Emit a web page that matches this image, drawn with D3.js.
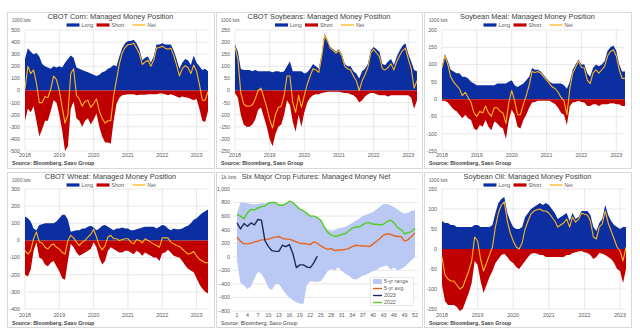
<!DOCTYPE html>
<html lang="en">
<head>
<meta charset="utf-8">
<title>Managed Money Positions</title>
<script src="https://cdn.jsdelivr.net/npm/d3@7"></script>
<style>
  body { margin: 0; background: #fff; }
  svg { font-family: "Liberation Sans", Arial, sans-serif; }
  .title { font-size: 7.4px; fill: #404040; }
  .tick { font-size: 5.3px; fill: #595959; }
  .unit { font-size: 4.6px; fill: #595959; }
  .legend { font-size: 5.3px; fill: #595959; }
  .source { font-size: 5.3px; fill: #404040; font-weight: bold; }
  .grid { stroke: #d9d9d9; stroke-width: 0.6; }
</style>
</head>
<body>
<script>
// monthly CFTC managed money positions, Jan 2018 onwards (1000 lots)
var cornLong = [260,350,320,300,310,280,220,200,190,180, 200,190,200,190,230,260,290,270,190,180,
  170,160,150,140,130,120,130,150,160,180, 190,210,200,280,350,390,410,410,420,390,
  340,250,270,280,230,280,380,380,390,380, 380,380,330,260,180,230,260,250,210,290, 230,200,170,180,160];
var cornShort = [-250,-150,-180,-130,-250,-380,-320,-250,-250,-170, -80,-100,-200,-330,-500,-460,-150,-90,-230,-250,
  -300,-250,-230,-280,-240,-190,-300,-380,-430,-430, -440,-250,-110,-60,-40,-35,-30,-30,-30,-40,
  -35,-35,-35,-30,-30,-30,-30,-25,-25,-30, -40,-30,-40,-50,-60,-50,-55,-60,-70,-80, -70,-150,-250,-260,-170];
var cornNet = [10,200,140,170,60,-100,-100,-50,-60,10, 120,90,0,-140,-270,-200,140,180,-40,-70,
  -130,-90,-80,-140,-110,-70,-170,-230,-270,-250, -250,-40,90,220,310,355,380,380,390,350,
  305,215,235,250,200,250,350,355,365,350, 340,350,290,210,120,180,205,190,140,210, 160,50,-80,-80,-10];

var soyLong = [190,160,90,85,85,85,80,85,80,80, 80,80,80,75,80,80,75,80,100,120,
  80,80,80,80,70,75,90,110,100,90, 150,235,210,180,170,160,170,150,110,100,
  100,80,70,50,80,90,110,165,180,170, 160,110,105,120,130,105,140,165,185,195, 150,120,85,80];
var soyShort = [-10,-30,-100,-140,-150,-150,-140,-120,-80,-70, -110,-150,-200,-230,-180,-150,-140,-100,-40,-60,
  -130,-170,-100,-150,-90,-50,-30,-20,-15,-15, -10,-8,-5,-5,-5,-5,-5,-8,-10,-10,
  -15,-20,-30,-50,-40,-25,-15,-10,-10,-15, -20,-20,-20,-25,-20,-20,-20,-20,-20,-20, -20,-30,-75,-40];
var soyNet = [180,130,-10,-55,-65,-65,-60,-35,0,10, -30,-70,-120,-155,-100,-70,-65,-20,60,60,
  -50,-90,-20,-70,-20,25,60,90,85,75, 140,227,205,175,165,155,165,142,100,90,
  85,60,40,0,40,65,95,155,170,155, 140,90,85,95,110,85,120,145,165,175, 130,90,10,40];

var mealLong = [95,130,110,85,80,75,75,65,65,60, 50,45,40,40,40,40,40,40,40,45,
  45,45,45,50,55,40,35,40,45,55, 65,90,85,85,80,70,60,50,45,45,
  45,45,40,30,50,85,100,115,100,100, 75,65,90,100,95,100,110,140,150,155, 140,100,80,80];
var mealShort = [-5,-5,-10,-20,-30,-35,-45,-55,-45,-55, -60,-85,-90,-75,-80,-60,-80,-90,-65,-70,
  -80,-85,-115,-60,-30,-45,-80,-85,-60,-45, -25,-10,-8,-5,-5,-5,-5,-5,-10,-15,
  -25,-40,-45,-75,-20,-10,-8,-5,-8,-10, -20,-20,-15,-15,-20,-15,-15,-15,-12,-12, -15,-15,-20,-20];
var mealNet = [90,125,100,65,50,40,30,10,20,5, -10,-40,-50,-35,-40,-20,-40,-50,-25,-25,
  -35,-40,-70,-10,25,-5,-45,-45,-15,10, 40,80,77,80,75,65,55,45,35,30,
  20,5,-5,-45,30,75,92,110,92,90, 55,45,75,85,75,85,95,125,138,143, 125,85,60,60];

var wheatLong = [140,130,110,70,60,90,95,100,100,100, 100,110,130,150,150,120,50,55,60,60,
  70,70,80,85,75,60,70,85,90,80, 70,60,70,70,75,70,70,60,60,65,
  70,75,80,80,80,80,70,80,90,85, 70,60,70,65,65,70,80,85,100,120, 130,145,160,170,180];
var wheatShort = [-200,-210,-170,-60,-10,-100,-110,-140,-150,-130, -120,-150,-180,-220,-230,-120,-20,-40,-70,-90,
  -80,-70,-60,-50,-10,-40,-100,-140,-120,-60, -40,-50,-60,-70,-70,-60,-60,-70,-80,-60,
  -70,-90,-70,-80,-90,-100,-100,-120,-75,-70, -55,-70,-90,-95,-100,-120,-145,-165,-175,-185, -220,-255,-280,-300,-310];
var wheatNet = [-60,-80,-60,10,50,-10,-15,-40,-50,-30, -20,-40,-50,-70,-80,0,30,15,-10,-30,
  -10,0,20,35,65,20,-30,-55,-30,20, 30,10,10,0,5,10,10,-10,-20,5,
  0,-15,10,0,-10,-20,-30,-40,15,15, 15,-10,-20,-30,-35,-50,-65,-80,-75,-65, -90,-110,-120,-130,-130];

var oilLong = [70,65,65,60,60,55,55,55,55,55, 55,60,60,55,55,55,55,60,90,115,
  125,130,90,70,55,50,50,55,80,90, 100,105,110,115,110,115,110,100,90,75,
  80,85,90,70,90,75,80,95,95,95, 85,55,45,65,75,110,85,70,60,55, 50,55,55];
var oilShort = [-90,-130,-140,-140,-140,-145,-155,-150,-130,-110, -85,-30,-40,-80,-110,-90,-70,-55,-35,-25,
  -15,-12,-20,-30,-35,-45,-50,-40,-30,-20, -12,-10,-12,-15,-15,-20,-20,-20,-20,-20,
  -20,-20,-15,-15,-10,-8,-6,-5,-8,-10, -15,-25,-20,-10,-12,-15,-20,-25,-35,-50, -55,-85,-50];
var oilNet = [-20,-65,-75,-80,-80,-90,-100,-95,-75,-55, -30,30,20,-25,-55,-35,-15,5,55,90,
  110,118,70,40,20,5,0,15,50,70, 88,95,98,100,95,95,90,80,70,55,
  60,65,75,55,80,67,74,90,87,85, 70,30,25,55,63,95,65,45,25,5, -5,-30,5];

// six major crops, weekly net (1k lots), weeks 1..52
var rangeHigh = [640,800,800,790,780,770,780,790,790,800, 810,800,770,770,790,820,800,760,710,690,
  650,610,600,590,540,450,400,380,390,420, 430,440,470,500,530,560,600,620,640,660,
  700,740,780,780,760,730,700,660,640,650, 680,690];
var rangeLow = [-50,-390,-420,-480,-440,-320,-220,-250,-340,-460, -490,-400,-400,-480,-550,-600,-640,-670,-690,-700,
  -420,-360,-370,-370,-360,-290,-210,-180,-200,-160, -210,-250,-280,-320,-340,-310,-280,-260,-240,-210,
  -190,-160,-140,-130,-190,-160,-200,-180,-150,-100, -50,0];
var avg5y = [290,230,190,190,200,220,230,250,250,260, 280,290,300,270,260,260,240,220,200,195,
  190,180,220,200,160,130,110,120,90,100, 100,110,120,150,170,165,160,160,150,190,
  230,270,320,340,330,310,300,300,230,250, 300,350];
var net2022 = [620,600,560,650,700,690,720,740,750,790, 800,800,760,760,780,820,800,750,700,680,
  640,600,600,580,540,440,360,320,300,310, 330,340,380,420,440,440,470,500,500,480,
  480,470,480,520,540,500,430,400,340,355, 370,420];
var net2023 = [500,410,490,450,500,470,550,540,240,150, 90,80,80,170,150,180,50,-160,-120,-120, -150,-160,-90,10];

var years = [2018, 2019, 2020, 2021, 2022, 2023];
var weekTicks = d3.range(1, 53, 3);

var BLUE = "#0b2ea0", RED = "#c00000", NET = "#ffb619";

var width = 640, height = 335;
var svg = d3.select("body").append("svg")
  .attr("width", width)
  .attr("height", height);

// panel frames: three columns, two rows
var cols = [[7, 214], [216, 422], [424, 631]];
var rows = [[12, 168], [172, 327]];

function frame(c, r) {
  var g = svg.append("g");
  g.append("rect")
    .attr("x", cols[c][0] + 0.5).attr("y", rows[r][0] + 0.5)
    .attr("width", cols[c][1] - cols[c][0]).attr("height", rows[r][1] - rows[r][0])
    .attr("fill", "#fff").attr("stroke", "#d9d9d9").attr("stroke-width", 1);
  return g;
}

function drawPosition(p) {
  var g = frame(p.col, p.row);
  var cx = (cols[p.col][0] + cols[p.col][1]) / 2;
  var top = p.row == 0 ? 30 : 189;
  var bottom = p.row == 0 ? 151 : 309;
  var oy = p.row == 0 ? 0 : 160;

  var n = p.long.length;
  var t = d3.range(n).map(function(i) { return 2018 + i / 12; });
  var x = d3.scaleLinear().domain([2018, t[n - 1]]).range([p.left, p.right]);
  var y = d3.scaleLinear().domain(p.yDomain).range([bottom, top]);
  var ticks = d3.range(p.yDomain[0], p.yDomain[1] + 1, p.step);

  g.selectAll(".hg").data(ticks).enter().append("line")
    .attr("class", "grid")
    .attr("x1", p.left).attr("x2", p.right)
    .attr("y1", function(d) { return y(d); }).attr("y2", function(d) { return y(d); });
  g.selectAll(".vg").data(years).enter().append("line")
    .attr("class", "grid")
    .attr("x1", function(d) { return x(d); }).attr("x2", function(d) { return x(d); })
    .attr("y1", top).attr("y2", bottom);

  var area = d3.area()
    .x(function(d, i) { return x(t[i]); })
    .y0(y(0))
    .y1(function(d) { return y(d); });
  g.append("path").attr("d", area(p.long)).attr("fill", BLUE);
  g.append("path").attr("d", area(p.short)).attr("fill", RED);

  var line = d3.line()
    .x(function(d, i) { return x(t[i]); })
    .y(function(d) { return y(d); });
  g.append("path").attr("d", line(p.net))
    .attr("fill", "none").attr("stroke", NET).attr("stroke-width", 1.1)
    .attr("stroke-linejoin", "round");

  // y tick labels
  g.selectAll(".yl").data(ticks).enter().append("text")
    .attr("class", "tick")
    .attr("x", p.left - 5).attr("y", function(d) { return y(d) + 1.9; })
    .attr("text-anchor", "end")
    .text(function(d) { return d; });
  // year labels
  g.selectAll(".xl").data(years).enter().append("text")
    .attr("class", "tick")
    .attr("x", function(d) { return x(d); }).attr("y", 157 + oy)
    .attr("text-anchor", "middle")
    .text(function(d) { return d; });

  g.append("text").attr("class", "title")
    .attr("x", cx).attr("y", 18.8 + oy).attr("text-anchor", "middle")
    .text(p.title);
  g.append("text").attr("class", "unit")
    .attr("x", cols[p.col][0] + 5).attr("y", 21.5 + oy)
    .text("1000 lots");
  g.append("text").attr("class", "source")
    .attr("x", cols[p.col][0] + 5).attr("y", 165 + oy)
    .text("Source: Bloomberg, Saxo Group");

  // legend: Long, Short, Net
  var ly = 25 + oy;
  var items = [
    { label: "Long", dx: -44, kind: "rect", color: BLUE },
    { label: "Short", dx: -14, kind: "rect", color: RED },
    { label: "Net", dx: 22, kind: "line", color: NET }
  ];
  items.forEach(function(it) {
    if (it.kind == "rect") {
      g.append("rect").attr("x", cx + it.dx).attr("y", ly - 1.6)
        .attr("width", 13).attr("height", 3.2).attr("fill", it.color);
    } else {
      g.append("line").attr("x1", cx + it.dx).attr("x2", cx + it.dx + 13)
        .attr("y1", ly).attr("y2", ly)
        .attr("stroke", it.color).attr("stroke-width", 1.3);
    }
    g.append("text").attr("class", "legend")
      .attr("x", cx + it.dx + 15).attr("y", ly + 1.9)
      .text(it.label);
  });
}

drawPosition({ col: 0, row: 0, title: "CBOT Corn: Managed Money Position",
  yDomain: [-500, 500], step: 100, left: 25, right: 208,
  long: cornLong, short: cornShort, net: cornNet });
drawPosition({ col: 1, row: 0, title: "CBOT Soybeans: Managed Money Position",
  yDomain: [-250, 250], step: 50, left: 235, right: 417,
  long: soyLong, short: soyShort, net: soyNet });
drawPosition({ col: 2, row: 0, title: "Soybean Meal: Managed Money Position",
  yDomain: [-150, 200], step: 50, left: 442, right: 625,
  long: mealLong, short: mealShort, net: mealNet });
drawPosition({ col: 0, row: 1, title: "CBOT Wheat: Managed Money Position",
  yDomain: [-400, 300], step: 100, left: 25, right: 208,
  long: wheatLong, short: wheatShort, net: wheatNet });
drawPosition({ col: 2, row: 1, title: "Soybean Oil: Managed Money Position",
  yDomain: [-150, 150], step: 50, left: 442, right: 626,
  long: oilLong, short: oilShort, net: oilNet });

// six major crops seasonal panel
(function() {
  var g = frame(1, 1);
  var left = 233, right = 418, top = 189, bottom = 311;
  var weeks = d3.range(1, 53);
  var x = d3.scaleLinear().domain([1, 52]).range([237, 415]);
  var y = d3.scaleLinear().domain([-800, 1000]).range([bottom, top]);
  var ticks = d3.range(-800, 1001, 200);

  g.selectAll(".hg").data(ticks).enter().append("line")
    .attr("class", "grid")
    .attr("x1", left).attr("x2", right)
    .attr("y1", function(d) { return y(d); }).attr("y2", function(d) { return y(d); });

  g.append("path")
    .attr("d", d3.area()
      .x(function(d, i) { return x(weeks[i]); })
      .y0(function(d, i) { return y(rangeLow[i]); })
      .y1(function(d) { return y(d); })(rangeHigh))
    .attr("fill", "#b9c9f4");

  var line = d3.line()
    .x(function(d, i) { return x(weeks[i]); })
    .y(function(d) { return y(d); });
  [[avg5y, "#e8641c"], [net2023, "#1f2a60"], [net2022, "#55cc1f"]].forEach(function(s) {
    g.append("path").attr("d", line(s[0]))
      .attr("fill", "none").attr("stroke", s[1]).attr("stroke-width", 1.4)
      .attr("stroke-linejoin", "round");
  });

  g.selectAll(".yl").data(ticks).enter().append("text")
    .attr("class", "tick")
    .attr("x", 230).attr("y", function(d) { return y(d) + 1.9; })
    .attr("text-anchor", "end")
    .text(d3.format(","));
  g.selectAll(".xl").data(weekTicks).enter().append("text")
    .attr("class", "tick")
    .attr("x", function(d) { return x(d); }).attr("y", 317)
    .attr("text-anchor", "middle")
    .text(function(d) { return d; });

  g.append("text").attr("class", "title")
    .attr("x", 316).attr("y", 178.8).attr("text-anchor", "middle")
    .text("Six Major Crop Futures: Managed Money Net");
  g.append("text").attr("class", "unit")
    .attr("x", 221).attr("y", 179).style("font-size", "5.3px")
    .text("1k lots");
  g.append("text").attr("class", "source").style("font-weight", "normal")
    .attr("x", 221).attr("y", 324.5)
    .text("Source: Bloomberg, Saxo Group");

  // legend box
  var lg = g.append("g");
  lg.append("rect").attr("x", 370.5).attr("y", 277.5).attr("width", 43).attr("height", 28)
    .attr("fill", "#fff").attr("stroke", "#d9d9d9").attr("stroke-width", 0.6);
  var entries = [
    { label: "5-yr range", color: "#b9c9f4", band: true },
    { label: "5-yr avg.", color: "#e8641c" },
    { label: "2023", color: "#1f2a60" },
    { label: "2022", color: "#55cc1f" }
  ];
  entries.forEach(function(e, i) {
    var ey = 281.5 + i * 7;
    if (e.band) {
      lg.append("rect").attr("x", 373).attr("y", ey - 2.5).attr("width", 9).attr("height", 5)
        .attr("fill", e.color);
    } else {
      lg.append("line").attr("x1", 373).attr("x2", 382).attr("y1", ey).attr("y2", ey)
        .attr("stroke", e.color).attr("stroke-width", 1.4);
    }
    lg.append("text").attr("class", "legend")
      .attr("x", 384).attr("y", ey + 1.9)
      .text(e.label);
  });
})();
</script>
</body>
</html>
